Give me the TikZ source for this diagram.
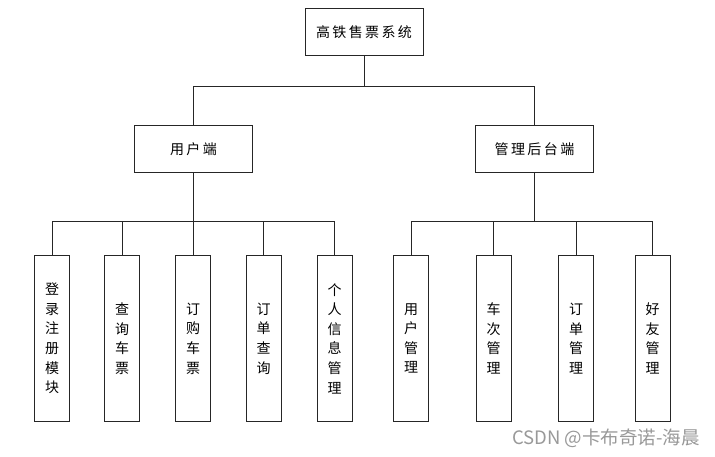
\documentclass[tikz,border=0pt]{standalone}
\usepackage{fontspec}
\newfontfamily\cjk[LetterSpace=17]{Noto Sans CJK SC}
\newfontfamily\cjkw{Noto Sans CJK SC}
\begin{document}
\begin{tikzpicture}[x=1pt,y=-1pt,
  box/.style={draw=black!85,line width=1pt,fill=white,inner sep=0pt},
  hbox/.style={box,minimum width=118pt,minimum height=47pt,font=\cjk\fontsize{14}{16}\selectfont},
  leaf/.style={box,minimum width=35pt,minimum height=165pt,align=center,font=\cjkw\fontsize{14}{19.6}\selectfont},
  link/.style={draw=black!85,line width=0.9pt}]
\useasboundingbox[fill=white] (0,0) rectangle (715,457);

\node[hbox] (top) at (364,32) {高铁售票系统};
\node[hbox] (u) at (193.5,149.5) {用户端};
\node[hbox] (m) at (534.5,149.5) {管理后台端};

\node[leaf] (l1) at (52,338.5) {登\\录\\注\\册\\模\\块};
\node[leaf] (l2) at (122,338.5) {查\\询\\车\\票};
\node[leaf] (l3) at (193,338.5) {订\\购\\车\\票};
\node[leaf] (l4) at (263.5,338.5) {订\\单\\查\\询};
\node[leaf] (l5) at (334.5,338.5) {个\\人\\信\\息\\管\\理};

\node[leaf] (r1) at (411,338.5) {用\\户\\管\\理};
\node[leaf] (r2) at (493.5,338.5) {车\\次\\管\\理};
\node[leaf] (r3) at (576,338.5) {订\\单\\管\\理};
\node[leaf] (r4) at (652.5,338.5) {好\\友\\管\\理};

\coordinate (b0) at (364,86);
\coordinate (bu) at (193.5,221);
\coordinate (bm) at (534.5,221);

\draw[link] (top.south) -- (b0) -| (u.north);
\draw[link] (b0) -| (m.north);

\draw[link] (u.south) -- (bu);
\foreach \n in {l1,l2,l3,l4,l5} \draw[link] (bu) -| (\n.north);
\draw[link] (m.south) -- (bm);
\foreach \n in {r1,r2,r3,r4} \draw[link] (bm) -| (\n.north);

\node[anchor=east,text=black!40,font=\cjkw\fontsize{18.5}{20}\selectfont,inner sep=0pt] (wm) at (700,438.5) {CSDN @卡布奇诺-海晨};
\end{tikzpicture}
\end{document}
